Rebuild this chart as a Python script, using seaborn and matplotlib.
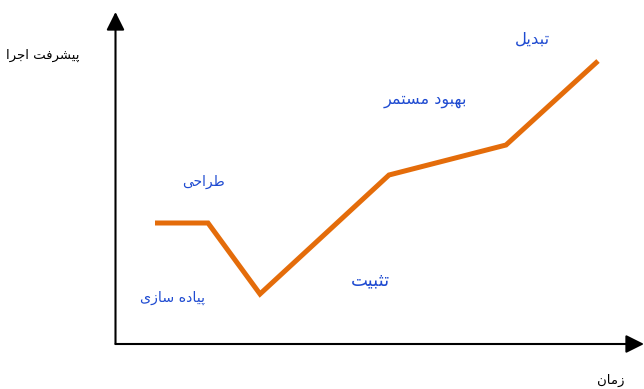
import matplotlib
matplotlib.use("Agg")
import matplotlib.pyplot as plt
import seaborn as sns
import pandas as pd

# Phase curve: time on x, execution progress on y
time_vals = [3.95, 9.25, 14.45, 27.35, 39.05, 48.25]
progress_vals = [12.1, 12.1, 5.0, 16.9, 19.9, 28.3]

# Phase labels and where they sit (time, progress)
phase_labels = ["طراحی", "پیاده سازی", "تثبیت", "بهبود مستمر", "تبدیل"]
phase_x = [8.75, 5.7, 25.5, 31.0, 41.65]
phase_y = [16.2, 4.6, 6.4, 24.4, 30.5]
phase_sizes = [10, 10.2, 13, 11.5, 11.8]

x_label = "زمان"
y_label = "پیشرفت اجرا"

# --- minimal Arabic-script shaping (contextual forms + visual order) ---
FORMS = {
    # letter: (isolated, final, initial, medial); None for right-joining letters
    "ا": ("\uFE8D", "\uFE8E", None, None),
    "ب": ("\uFE8F", "\uFE90", "\uFE91", "\uFE92"),
    "پ": ("\uFB56", "\uFB57", "\uFB58", "\uFB59"),
    "ت": ("\uFE95", "\uFE96", "\uFE97", "\uFE98"),
    "ث": ("\uFE99", "\uFE9A", "\uFE9B", "\uFE9C"),
    "ج": ("\uFE9D", "\uFE9E", "\uFE9F", "\uFEA0"),
    "ح": ("\uFEA1", "\uFEA2", "\uFEA3", "\uFEA4"),
    "د": ("\uFEA9", "\uFEAA", None, None),
    "ر": ("\uFEAD", "\uFEAE", None, None),
    "ز": ("\uFEAF", "\uFEB0", None, None),
    "س": ("\uFEB1", "\uFEB2", "\uFEB3", "\uFEB4"),
    "ش": ("\uFEB5", "\uFEB6", "\uFEB7", "\uFEB8"),
    "ط": ("\uFEC1", "\uFEC2", "\uFEC3", "\uFEC4"),
    "ف": ("\uFED1", "\uFED2", "\uFED3", "\uFED4"),
    "ل": ("\uFEDD", "\uFEDE", "\uFEDF", "\uFEE0"),
    "م": ("\uFEE1", "\uFEE2", "\uFEE3", "\uFEE4"),
    "ن": ("\uFEE5", "\uFEE6", "\uFEE7", "\uFEE8"),
    "ه": ("\uFEE9", "\uFEEA", "\uFEEB", "\uFEEC"),
    "و": ("\uFEED", "\uFEEE", None, None),
    "ی": ("\uFBFC", "\uFBFD", "\uFBFE", "\uFBFF"),
}


def shape(text):
    out = []
    for i, ch in enumerate(text):
        if ch not in FORMS:
            out.append(ch)
            continue
        prev = text[i - 1] if i > 0 else None
        nxt = text[i + 1] if i + 1 < len(text) else None
        joins_prev = prev in FORMS and FORMS[prev][2] is not None
        can_next = FORMS[ch][2] is not None
        joins_next = can_next and nxt in FORMS
        iso, fin, ini, med = FORMS[ch]
        if joins_prev and joins_next:
            out.append(med)
        elif joins_prev:
            out.append(fin)
        elif joins_next:
            out.append(ini)
        else:
            out.append(iso)
    return "".join(reversed(out))


sns.set_style("white")
plt.rcParams["font.family"] = ["DejaVu Sans"]

fig = plt.figure(figsize=(6.44, 3.89), dpi=100)
W, H = 644, 389
ax = fig.add_axes([115.5 / W, (H - 344) / H, (644 - 115.5) / W, (344 - 12) / H])
ax.set_xlim(0, 52.85)
ax.set_ylim(0, 33.2)
ax.set_axis_off()

df = pd.DataFrame({"time": time_vals, "progress": progress_vals})
sns.lineplot(data=df, x="time", y="progress", sort=False, ax=ax,
             color="#E46C0A", linewidth=3.6, solid_joinstyle="miter",
             solid_capstyle="butt")

# Axis arrows
arrow = dict(arrowstyle="-|>,head_length=1.1,head_width=0.55", color="black",
             lw=1.5, mutation_scale=10, shrinkA=0, shrinkB=0)
ax.annotate("", xy=(1, 0), xytext=(0, 0), xycoords="axes fraction",
            arrowprops=arrow, annotation_clip=False)
ax.annotate("", xy=(0, 1), xytext=(0, 0), xycoords="axes fraction",
            arrowprops=arrow, annotation_clip=False)

for lab, x, y, s in zip(phase_labels, phase_x, phase_y, phase_sizes):
    ax.text(x, y, shape(lab), color="#1F4BD1", fontsize=s,
            ha="center", va="center")

fig.text(43 / W, 1 - 55 / H, shape(y_label), fontsize=9.5, color="black",
         ha="center", va="center")
fig.text(611 / W, 1 - 380 / H, shape(x_label), fontsize=9.5, color="black",
         ha="center", va="center")

fig.savefig("out.png", dpi=100)
